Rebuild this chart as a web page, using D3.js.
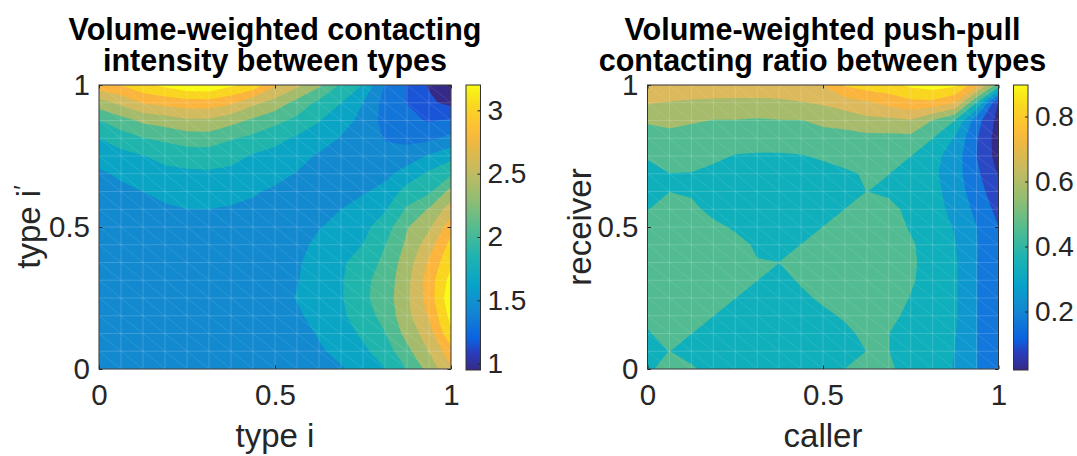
<!DOCTYPE html>
<html>
<head>
<meta charset="utf-8">
<script src="https://cdn.jsdelivr.net/npm/d3@7"></script>
<style>
  body { margin:0; background:#fff; }
  text { font-family:"Liberation Sans", Arial, sans-serif; fill:#262626; }
  .axis path { display:none; }
  .axis line { stroke:#262626; }
  .axis text { font-size:29.5px; fill:#262626; font-family:"Liberation Sans", Arial, sans-serif; }
  .cbar text { font-size:28px; }
  .title { font-size:30.5px; font-weight:bold; fill:#000; text-anchor:middle; }
  .label { font-size:33px; text-anchor:middle; }
</style>
</head>
<body>
<div id="chart"></div>
<script>
const svgWidth = 1077;
const svgHeight = 456;

// values, one list per mesh column (left to right), top row first
const intensityColumns = [
  [2.75,2.37,2.07,1.89,1.77,1.67,1.63,1.61,1.60,1.60,1.60,1.60,1.60,1.60,1.60,1.60,1.60],
  [2.83,2.50,2.19,1.98,1.83,1.73,1.66,1.62,1.60,1.60,1.60,1.60,1.60,1.60,1.60,1.60,1.60],
  [2.97,2.65,2.30,2.07,1.88,1.77,1.70,1.64,1.61,1.60,1.60,1.60,1.60,1.60,1.60,1.60,1.60],
  [3.06,2.70,2.35,2.11,1.95,1.83,1.76,1.67,1.62,1.60,1.60,1.60,1.60,1.60,1.60,1.60,1.60],
  [3.15,2.74,2.42,2.16,1.98,1.85,1.77,1.70,1.63,1.60,1.60,1.60,1.60,1.60,1.60,1.60,1.60],
  [3.17,2.74,2.42,2.17,1.98,1.86,1.77,1.70,1.63,1.60,1.60,1.60,1.60,1.60,1.60,1.60,1.60],
  [3.05,2.67,2.33,2.09,1.95,1.84,1.77,1.68,1.62,1.60,1.60,1.60,1.60,1.60,1.60,1.60,1.60],
  [2.95,2.50,2.23,2.03,1.87,1.80,1.72,1.66,1.62,1.60,1.60,1.60,1.60,1.60,1.60,1.60,1.60],
  [2.66,2.38,2.13,1.94,1.83,1.76,1.67,1.63,1.60,1.60,1.61,1.62,1.63,1.61,1.60,1.60,1.60],
  [2.50,2.20,2.03,1.86,1.76,1.69,1.63,1.60,1.60,1.64,1.68,1.69,1.71,1.67,1.62,1.60,1.60],
  [2.30,2.03,1.90,1.78,1.68,1.62,1.60,1.60,1.69,1.75,1.77,1.80,1.81,1.77,1.72,1.67,1.62],
  [2.05,1.89,1.76,1.69,1.63,1.60,1.62,1.70,1.76,1.82,1.86,1.87,1.87,1.85,1.80,1.76,1.68],
  [1.88,1.70,1.66,1.62,1.60,1.64,1.68,1.78,1.84,1.89,1.97,2.03,2.04,2.00,1.92,1.85,1.78],
  [1.50,1.45,1.44,1.50,1.57,1.65,1.76,1.87,1.98,2.07,2.12,2.15,2.16,2.13,2.07,1.98,1.88],
  [1.32,1.32,1.37,1.46,1.60,1.78,1.96,2.10,2.25,2.30,2.36,2.40,2.42,2.40,2.33,2.21,2.08],
  [1.12,1.17,1.31,1.47,1.72,1.92,2.04,2.28,2.42,2.55,2.67,2.73,2.72,2.66,2.55,2.46,2.33],
  [1.00,1.09,1.35,1.57,1.83,2.05,2.33,2.55,2.75,2.89,2.98,3.08,3.15,3.08,2.98,2.75,2.62]
];

const pushPullColumns = [
  [.660,.610,.540,.500,.470,.420,.420,.455,.490,.500,.500,.500,.500,.480,.450,.440,.440],
  [.665,.600,.550,.510,.480,.458,.458,.500,.500,.500,.500,.500,.500,.500,.500,.460,.500],
  [.670,.590,.540,.500,.480,.457,.450,.475,.500,.500,.500,.500,.500,.500,.460,.430,.470],
  [.670,.585,.530,.500,.475,.440,.430,.440,.475,.500,.500,.500,.500,.460,.430,.430,.430],
  [.672,.580,.530,.495,.455,.430,.420,.420,.450,.480,.500,.500,.460,.430,.430,.430,.430],
  [.672,.580,.525,.500,.450,.420,.420,.420,.430,.450,.462,.460,.430,.430,.430,.430,.430],
  [.672,.585,.530,.500,.450,.420,.420,.420,.420,.430,.460,.430,.430,.430,.430,.430,.430],
  [.672,.600,.530,.500,.455,.420,.420,.420,.420,.460,.500,.470,.440,.430,.430,.430,.430],
  [.680,.615,.545,.510,.470,.430,.420,.420,.460,.500,.500,.500,.475,.440,.430,.430,.430],
  [.760,.640,.560,.505,.480,.450,.420,.460,.500,.500,.500,.500,.500,.470,.440,.430,.460],
  [.790,.665,.585,.510,.490,.465,.460,.500,.500,.500,.500,.500,.500,.500,.480,.460,.500],
  [.800,.700,.588,.510,.480,.460,.440,.490,.500,.500,.500,.500,.500,.490,.460,.460,.475],
  [.840,.730,.600,.510,.460,.430,.420,.430,.450,.470,.475,.470,.455,.430,.420,.420,.420],
  [.860,.730,.530,.460,.410,.400,.410,.420,.420,.420,.420,.420,.420,.420,.420,.420,.420],
  [.840,.680,.460,.380,.350,.345,.350,.360,.380,.390,.395,.395,.395,.395,.390,.385,.380],
  [.700,.460,.270,.245,.240,.255,.275,.295,.313,.315,.314,.314,.314,.314,.314,.314,.314],
  [.500,.160,.140,.130,.135,.160,.185,.215,.240,.260,.265,.265,.265,.265,.265,.265,.265]
];

const intensityLevels = [0.95,1.1375,1.325,1.5125,1.70,1.8875,2.075,2.2625,2.45,2.6375,2.825,3.0125];
const pushPullLevels = [0.02,0.093,0.166,0.239,0.312,0.385,0.459,0.532,0.605,0.678,0.751,0.824];

const intensityColors = ["#352a87","#1a55d8","#1375d8","#1389d0","#0aa5c5","#1fb5ad","#50bb90","#a3bb6b","#d2ba5f","#fbb53c","#fad520","#f9fb15"];
const pushPullColors = ["#352a87","#352a87","#2a48c4","#1278dc","#0f98d0","#0fafbb","#52bb92","#a6bb6b","#dcb95c","#fbb53c","#fad520","#f9fb15"];

const parulaPos = [0,.06,.11,.2,.3,.4,.5,.6,.7,.8,.85,.93,1];
const parulaCol = ["#352a87","#2a3cbc","#0b63e0","#1384d4","#08a3c9","#1fb4b0","#55bc8f","#93bd72","#c4bb60","#f0b840","#fdbf35","#f9d820","#f9fb15"];

const axisTicks = [0,0.5,1];
const intensityBarTicks = [1,1.5,2,2.5,3];
const pushPullBarTicks = [0.2,0.4,0.6,0.8];
const intensityBarRange = [0.95,3.2];
const pushPullBarRange = [0.02,0.897];

document.addEventListener("DOMContentLoaded", function(event){
    const svg = d3.select("#chart").append("svg")
        .attr("width", svgWidth)
        .attr("height", svgHeight);

    drawPanel(svg, {
        id:"p1", left:99, right:451, barLeft:466,
        columns:intensityColumns, levels:intensityLevels, colors:intensityColors,
        barTicks:intensityBarTicks, barRange:intensityBarRange,
        xlabel:"type i"
    });
    drawPanel(svg, {
        id:"p2", left:647.5, right:998.5, barLeft:1013.5,
        columns:pushPullColumns, levels:pushPullLevels, colors:pushPullColors,
        barTicks:pushPullBarTicks, barRange:pushPullBarRange,
        xlabel:"caller"
    });

    // titles
    svg.append("text").attr("class","title").attr("x",275).attr("y",39.5).text("Volume-weighted contacting");
    svg.append("text").attr("class","title").attr("x",275).attr("y",71).text("intensity between types");
    svg.append("text").attr("class","title").attr("x",822.5).attr("y",39.5).text("Volume-weighted push-pull");
    svg.append("text").attr("class","title").attr("x",822.5).attr("y",71).text("contacting ratio between types");

    // y labels
    const yl1 = svg.append("text").attr("class","label")
        .attr("transform","translate(40,227)rotate(-90)");
    yl1.append("tspan").text("type i");
    yl1.append("tspan").attr("dy",-9).attr("font-size",24).text("′");
    svg.append("text").attr("class","label")
        .attr("transform","translate(591,227)rotate(-90)")
        .text("receiver");
});

function drawPanel(svg, p){
    const top = 85, bottom = 369;
    const xscale = d3.scaleLinear().domain([0,1]).range([p.left,p.right]);
    const yscale = d3.scaleLinear().domain([0,1]).range([bottom,top]);
    const n = p.columns.length;

    svg.append("clipPath").attr("id","clip"+p.id)
        .append("rect")
        .attr("x",p.left).attr("y",top)
        .attr("width",p.right-p.left).attr("height",bottom-top);

    const plot = svg.append("g").attr("clip-path","url(#clip"+p.id+")");

    // d3.contours wants a flat list, row after row
    const values = [];
    for (let j = 0; j < n; j++){
        for (let i = 0; i < n; i++){
            values.push(p.columns[i][j]);
        }
    }
    const contours = d3.contours().size([n,n]).thresholds(p.levels)(values);

    const toPlot = d3.geoTransform({
        point: function(x,y){
            this.stream.point(xscale((x-0.5)/(n-1)), yscale(1-(y-0.5)/(n-1)));
        }
    });
    const path = d3.geoPath(toPlot);

    plot.selectAll("path.band")
        .data(contours)
        .enter()
        .append("path")
        .attr("class","band")
        .attr("d",path)
        .attr("fill",function(d,i){ return p.colors[i]; });

    // triangle mesh on top of the bands
    const mesh = d3.range(n).map(function(d){ return d/(n-1); });
    const step = 1/(n-1);
    const gridPath = d3.path();
    mesh.forEach(function(m){
        gridPath.moveTo(xscale(m),yscale(0)); gridPath.lineTo(xscale(m),yscale(1));
        gridPath.moveTo(xscale(0),yscale(m)); gridPath.lineTo(xscale(1),yscale(m));
    });
    const diagPath = d3.path();
    mesh.slice(1).forEach(function(a){
        mesh.slice(1).forEach(function(b){
            diagPath.moveTo(xscale(a-step),yscale(b));
            diagPath.lineTo(xscale(a),yscale(b-step));
        });
    });
    plot.append("path")
        .attr("d",gridPath.toString())
        .attr("fill","none")
        .attr("stroke","#fff")
        .attr("stroke-opacity",0.22)
        .attr("stroke-width",0.8);
    plot.append("path")
        .attr("d",diagPath.toString())
        .attr("fill","none")
        .attr("stroke","#fff")
        .attr("stroke-opacity",0.14)
        .attr("stroke-width",0.8);

    // axes, ticks pointing in on all four sides
    const fmt = d3.format("");
    svg.append("g").attr("class","axis")
        .attr("transform","translate(0,"+bottom+")")
        .call(d3.axisBottom(xscale).tickValues(axisTicks).tickSize(-3.5).tickPadding(15).tickFormat(fmt));
    svg.append("g").attr("class","axis")
        .attr("transform","translate("+p.left+",0)")
        .call(d3.axisLeft(yscale).tickValues(axisTicks).tickSize(-3.5).tickPadding(9).tickFormat(fmt));
    svg.append("g").attr("class","axis")
        .attr("transform","translate(0,"+top+")")
        .call(d3.axisTop(xscale).tickValues(axisTicks).tickSize(-3.5).tickFormat(""));
    svg.append("g").attr("class","axis")
        .attr("transform","translate("+p.right+",0)")
        .call(d3.axisRight(yscale).tickValues(axisTicks).tickSize(-3.5).tickFormat(""));

    svg.append("rect")
        .attr("x",p.left).attr("y",top)
        .attr("width",p.right-p.left).attr("height",bottom-top)
        .attr("fill","none")
        .attr("stroke","#333")
        .attr("stroke-width",1);

    svg.append("text").attr("class","label")
        .attr("x",(p.left+p.right)/2).attr("y",447)
        .text(p.xlabel);

    // colorbar
    const barWidth = 14.5, barBottom = 370;
    const cscale = d3.scaleLinear().domain(p.barRange).range([barBottom,top]);
    const grad = svg.append("linearGradient").attr("id","grad"+p.id)
        .attr("x1",0).attr("x2",0).attr("y1",1).attr("y2",0);
    parulaPos.forEach(function(pos,i){
        grad.append("stop").attr("offset",pos).attr("stop-color",parulaCol[i]);
    });
    svg.append("rect")
        .attr("x",p.barLeft).attr("y",top)
        .attr("width",barWidth).attr("height",barBottom-top)
        .attr("fill","url(#grad"+p.id+")")
        .attr("stroke","#333")
        .attr("stroke-width",1);
    svg.append("g").attr("class","axis cbar")
        .attr("transform","translate("+(p.barLeft+barWidth)+",0)")
        .call(d3.axisRight(cscale).tickValues(p.barTicks).tickSize(-3).tickPadding(7).tickFormat(fmt));
}
</script>
</body>
</html>
